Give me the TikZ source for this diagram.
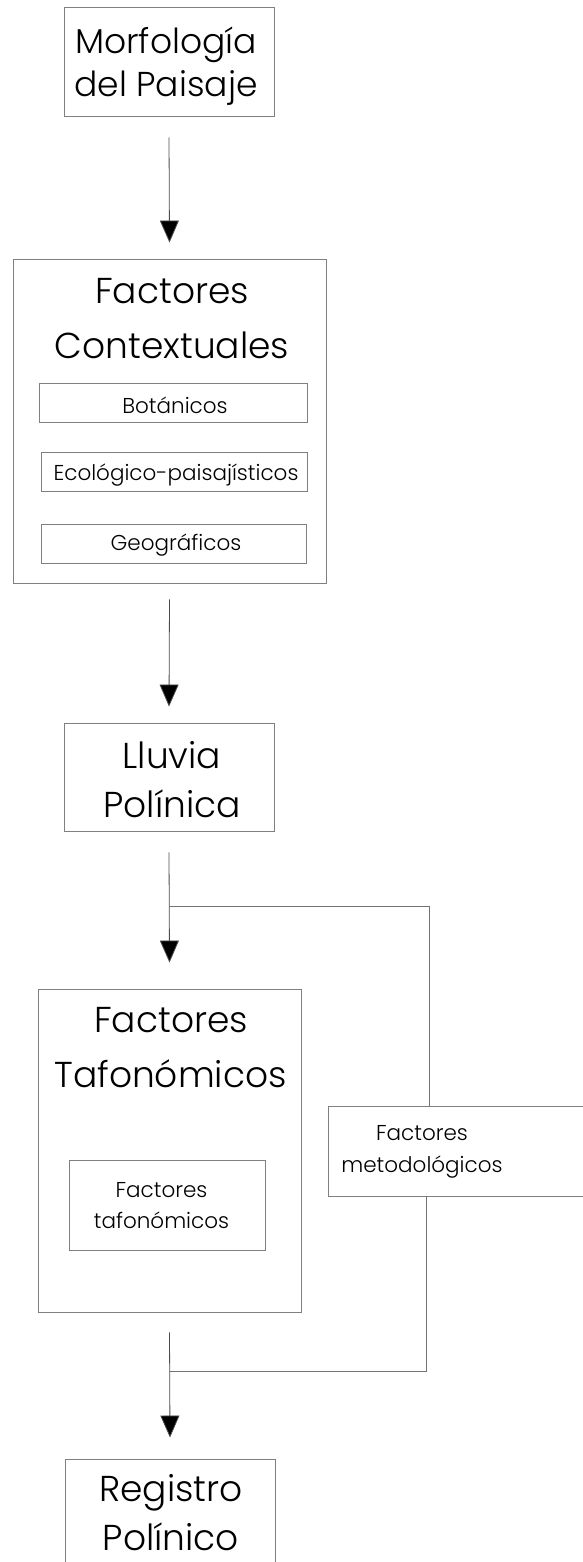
\documentclass[tikz,border=0pt]{standalone}
\usepackage{fontspec}
\IfFontExistsTF{Poppins Light}{\setmainfont{Poppins Light}}{\setmainfont{Poppins}}
\usetikzlibrary{arrows.meta}
\tikzset{
  x=1pt,y=-1pt,
  box/.style={draw=black!50,line width=0.9pt,rectangle,inner sep=0pt},
  big/.style={font=\fontsize{36}{36}\selectfont,anchor=base,inner sep=0pt},
  small/.style={font=\fontsize{21.5}{22}\selectfont,anchor=base,inner sep=0pt},
  arr/.style={draw=black!70,line width=0.8pt,-{Triangle[length=22pt,width=19pt,fill=black]}},
  link/.style={draw=black!55,line width=0.8pt}
}
\begin{document}
\begin{tikzpicture}
\useasboundingbox (0,0) rectangle (582,1562);
% boxes
\node[box,minimum width=210pt,minimum height=109pt] (morf) at (169,61.5) {};
\node[big,font=\fontsize{34.5}{35}\selectfont] (morf1) at (166,54) {Morfología};
\node[big,font=\fontsize{34.5}{35}\selectfont] (morf2) at (166,97) {del Paisaje};

\node[box,minimum width=313pt,minimum height=324pt] (ctx) at (169.5,421) {};
\node[big] (ctx1) at (172,303) {Factores};
\node[big] (ctx2) at (172,358) {Contextuales};
\node[box,minimum width=268pt,minimum height=39pt] (bot) at (173,402.5) {};
\node[small] (bott) at (175,413) {Botánicos};
\node[box,minimum width=266pt,minimum height=39pt] (eco) at (174,471.5) {};
\node[small] (ecot) at (176,480) {Ecológico-paisajísticos};
\node[box,minimum width=265pt,minimum height=39pt] (geo) at (173.5,543.5) {};
\node[small] (geot) at (176,550) {Geográficos};

\node[box,minimum width=210pt,minimum height=108pt] (lluvia) at (169,777) {};
\node[big] (ll1) at (172,768) {Lluvia};
\node[big] (ll2) at (172,817) {Polínica};

\node[box,minimum width=263pt,minimum height=323pt] (taf) at (169.5,1150.5) {};
\node[big] (taf1) at (171,1032) {Factores};
\node[big] (taf2) at (170.5,1087) {Tafonómicos};
\node[box,minimum width=196pt,minimum height=90pt] (tafi) at (167,1205) {};
\node[small] (tafi1) at (161.5,1197) {Factores};
\node[small] (tafi2) at (161.5,1228) {tafonómicos};

\node[box,minimum width=272pt,minimum height=90pt] (meto) at (464,1151) {};
\node[small] (meto1) at (422,1140) {Factores};
\node[small] (meto2) at (422,1172) {metodológicos};

\node[box,minimum width=210pt,minimum height=116pt] (reg) at (170,1517) {};
\node[big] (reg1) at (171,1501) {Registro};
\node[big] (reg2) at (171,1550) {Polínico};

% arrows
\draw[arr] ([yshift=-21pt]morf.south) -- ([yshift=16pt]ctx.north);
\draw[arr] ([yshift=-16pt]ctx.south) -- ([yshift=16pt]lluvia.north);
\draw[arr] ([yshift=-21pt]lluvia.south) -- ([yshift=26pt]taf.north);
\draw[arr] ([yshift=-20pt]taf.south) -- ([yshift=21pt]reg.north);

% feedback loop
\coordinate (j1) at (169,906);
\coordinate (j1r) at (429,906);
\coordinate (j2r) at (426,1371);
\coordinate (j2) at (170,1371);
\draw[link] (j1) -- (j1r) -- (j1r |- meto.north);
\draw[link] (j2r |- meto.south) -- (j2r) -- (j2);
\end{tikzpicture}
\end{document}
